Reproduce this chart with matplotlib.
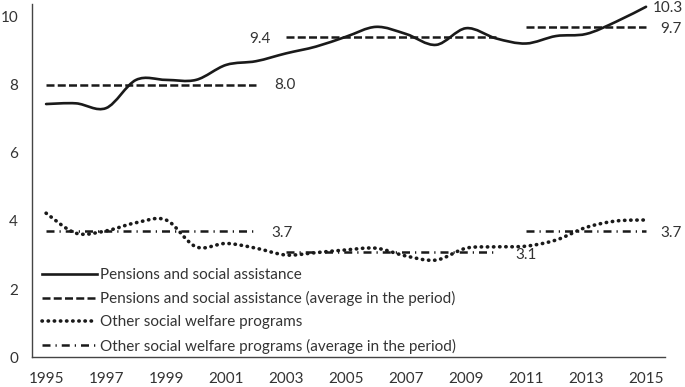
import numpy as np
import matplotlib.pyplot as plt
from matplotlib.path import Path
from matplotlib.patches import PathPatch
from matplotlib.lines import Line2D

plt.rcParams['font.family'] = ['Lato', 'DejaVu Sans']

years = list(range(1995, 2016))
pensions = [7.44, 7.46, 7.32, 8.15, 8.15, 8.15, 8.59, 8.70, 8.93, 9.13, 9.42,
            9.71, 9.50, 9.18, 9.67, 9.37, 9.22, 9.44, 9.50, 9.86, 10.3]
other = [4.23, 3.64, 3.71, 3.95, 4.03, 3.24, 3.34, 3.20, 3.00, 3.07, 3.15,
         3.20, 2.97, 2.85, 3.20, 3.24, 3.26, 3.44, 3.81, 4.00, 4.03]

# period averages: (start, end, value)
pensions_avg = [(1995, 2002, 8.0), (2003, 2010, 9.4), (2011, 2015, 9.7)]
other_avg = [(1995, 2002, 3.7), (2003, 2010, 3.1), (2011, 2015, 3.7)]

labels = ['Pensions and social assistance',
          'Pensions and social assistance (average in the period)',
          'Other social welfare programs',
          'Other social welfare programs (average in the period)']

ink = '#1a1a1a'
solid_ls = '-'
dash_ls = (0, (3.2, 1.3))
dot_ls = (0, (0.1, 1.6))
dashdot_ls = (0, (3.2, 2.0, 0.5, 2.0))


def smooth_path(x, y):
    # Excel-style smoothed line: Catmull-Rom converted to cubic Bezier segments
    x = np.asarray(x, float)
    y = np.asarray(y, float)
    pts = np.column_stack([x, y])
    verts = [pts[0]]
    codes = [Path.MOVETO]
    n = len(pts)
    for i in range(n - 1):
        p0 = pts[max(i - 1, 0)]
        p1 = pts[i]
        p2 = pts[i + 1]
        p3 = pts[min(i + 2, n - 1)]
        c1 = p1 + (p2 - p0) / 6.0
        c2 = p2 - (p3 - p1) / 6.0
        verts += [c1, c2, p2]
        codes += [Path.CURVE4] * 3
    return Path(verts, codes)


fig = plt.figure(figsize=(6.85, 3.87), dpi=100)
ax = fig.add_axes([0.0467, 0.0775, 0.924, 0.912])

ax.add_patch(PathPatch(smooth_path(years, pensions), fill=False, edgecolor=ink,
                       lw=1.9, linestyle=solid_ls, capstyle='round'))
ax.add_patch(PathPatch(smooth_path(years, other), fill=False, edgecolor=ink,
                       lw=2.6, linestyle=dot_ls, capstyle='round'))

for (a, b, v) in pensions_avg:
    ax.plot([a, b], [v, v], color=ink, lw=1.8, linestyle=dash_ls)
for (a, b, v) in other_avg:
    ax.plot([a, b], [v, v], color=ink, lw=1.8, linestyle=dashdot_ls)

fs = 11
tc = '#333333'
ax.text(pensions_avg[0][1] + 0.6, pensions_avg[0][2], '%.1f' % pensions_avg[0][2],
        va='center', ha='left', fontsize=fs, color=tc)
ax.text(pensions_avg[1][0] - 0.53, pensions_avg[1][2] - 0.05, '%.1f' % pensions_avg[1][2],
        va='center', ha='right', fontsize=fs, color=tc)
ax.text(pensions_avg[2][1] + 0.47, pensions_avg[2][2] - 0.05, '%.1f' % pensions_avg[2][2],
        va='center', ha='left', fontsize=fs, color=tc)
ax.text(years[-1] + 0.22, pensions[-1] - 0.03, '%.1f' % pensions[-1],
        va='center', ha='left', fontsize=fs, color=tc)
ax.text(other_avg[0][1] + 0.5, other_avg[0][2] - 0.05, '%.1f' % other_avg[0][2],
        va='center', ha='left', fontsize=fs, color=tc)
ax.text(other_avg[1][1] + 0.65, other_avg[1][2] - 0.1, '%.1f' % other_avg[1][2],
        va='center', ha='left', fontsize=fs, color=tc)
ax.text(other_avg[2][1] + 0.47, other_avg[2][2] - 0.05, '%.1f' % other_avg[2][2],
        va='center', ha='left', fontsize=fs, color=tc)

ax.set_xlim(1994.53, 2015.63)
ax.set_ylim(0, 10.38)
ax.set_xticks(years[::2])
ax.set_yticks([0, 2, 4, 6, 8, 10])
ax.tick_params(length=0, labelsize=fs, colors=tc)
ax.tick_params(axis='x', pad=10.5)
ax.tick_params(axis='y', pad=10)
for s in ['top', 'right']:
    ax.spines[s].set_visible(False)
for s in ['left', 'bottom']:
    ax.spines[s].set_color('#444444')
    ax.spines[s].set_linewidth(1.0)

handles = [Line2D([], [], color=ink, lw=1.9, linestyle=solid_ls),
           Line2D([], [], color=ink, lw=1.8, linestyle=dash_ls),
           Line2D([], [], color=ink, lw=2.6, linestyle=dot_ls, dash_capstyle='round'),
           Line2D([], [], color=ink, lw=1.8, linestyle=dashdot_ls)]
ax.legend(handles, labels, loc='lower left', bbox_to_anchor=(-0.004, -0.025),
          frameon=False, fontsize=fs, handlelength=3.6, handletextpad=0.2,
          labelspacing=0.6, borderpad=0.3, labelcolor=tc)

fig.savefig('out.png', dpi=100)
